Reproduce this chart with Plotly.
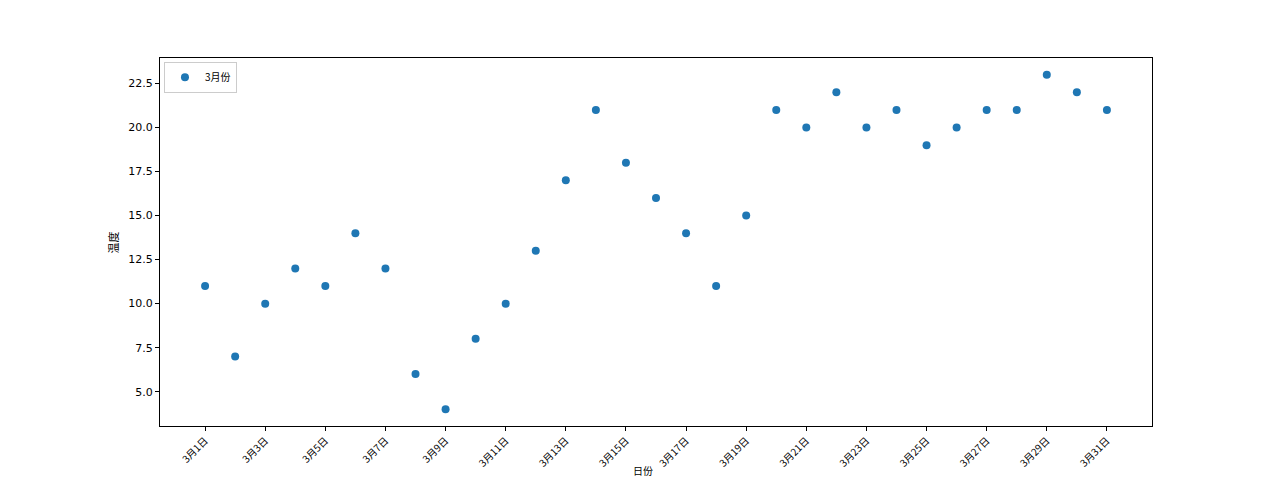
import plotly.graph_objects as go

days = [f"3月{i}日" for i in range(1, 32)]
temps = [11, 7, 10, 12, 11, 14, 12, 6, 4, 8, 10, 13, 17, 21, 18, 16, 14, 11, 15,
         21, 20, 22, 20, 21, 19, 20, 21, 21, 23, 22, 21]
tick_idx = list(range(0, 31, 2))
tick_text = [days[i] for i in tick_idx]
y_ticks = [5.0, 7.5, 10.0, 12.5, 15.0, 17.5, 20.0, 22.5]

fig = go.Figure()
fig.add_trace(go.Scatter(
    x=list(range(len(days))), y=temps, mode="markers", name="3月份",
    marker=dict(color="#1f77b4", size=8),
))

fig.update_layout(
    width=1280, height=480,
    margin=dict(l=152, r=136, t=50, b=62),
    paper_bgcolor="white", plot_bgcolor="white",
    font=dict(family="DejaVu Sans, Noto Sans CJK SC", size=11, color="black"),
    showlegend=True,
    legend=dict(x=0.004, y=0.99, xanchor="left", yanchor="top",
                bordercolor="#cccccc", borderwidth=1, bgcolor="white",
                itemwidth=30, tracegroupgap=0,
                font=dict(family="Noto Sans CJK SC", size=10)),
    xaxis=dict(
        range=[-1.5, 31.5], tickmode="array", tickvals=tick_idx, ticktext=tick_text,
        tickangle=-45, showgrid=False, zeroline=False, showline=True,
        linecolor="black", linewidth=1, mirror=True, ticks="outside",
        ticklen=4, tickcolor="black",
        tickfont=dict(family="Noto Sans CJK SC", size=10),
    ),
    yaxis=dict(
        range=[3.05, 23.95], tickmode="array", tickvals=y_ticks,
        ticktext=[f"{v:.1f}" for v in y_ticks],
        showgrid=False, zeroline=False, showline=True,
        linecolor="black", linewidth=1, mirror=True, ticks="outside",
        ticklen=4, tickcolor="black",
        tickfont=dict(family="DejaVu Sans", size=11),
    ),
    annotations=[
        dict(text="温度", xref="paper", yref="paper", x=-0.047, y=0.5,
             textangle=-90, showarrow=False, xanchor="center", yanchor="middle",
             font=dict(family="Noto Sans CJK SC", size=11)),
        dict(text="日份", xref="paper", yref="paper", x=0.487, y=-0.096,
             showarrow=False, xanchor="center", yanchor="top",
             font=dict(family="Noto Sans CJK SC", size=10)),
    ],
)

fig.write_html("out.html")
